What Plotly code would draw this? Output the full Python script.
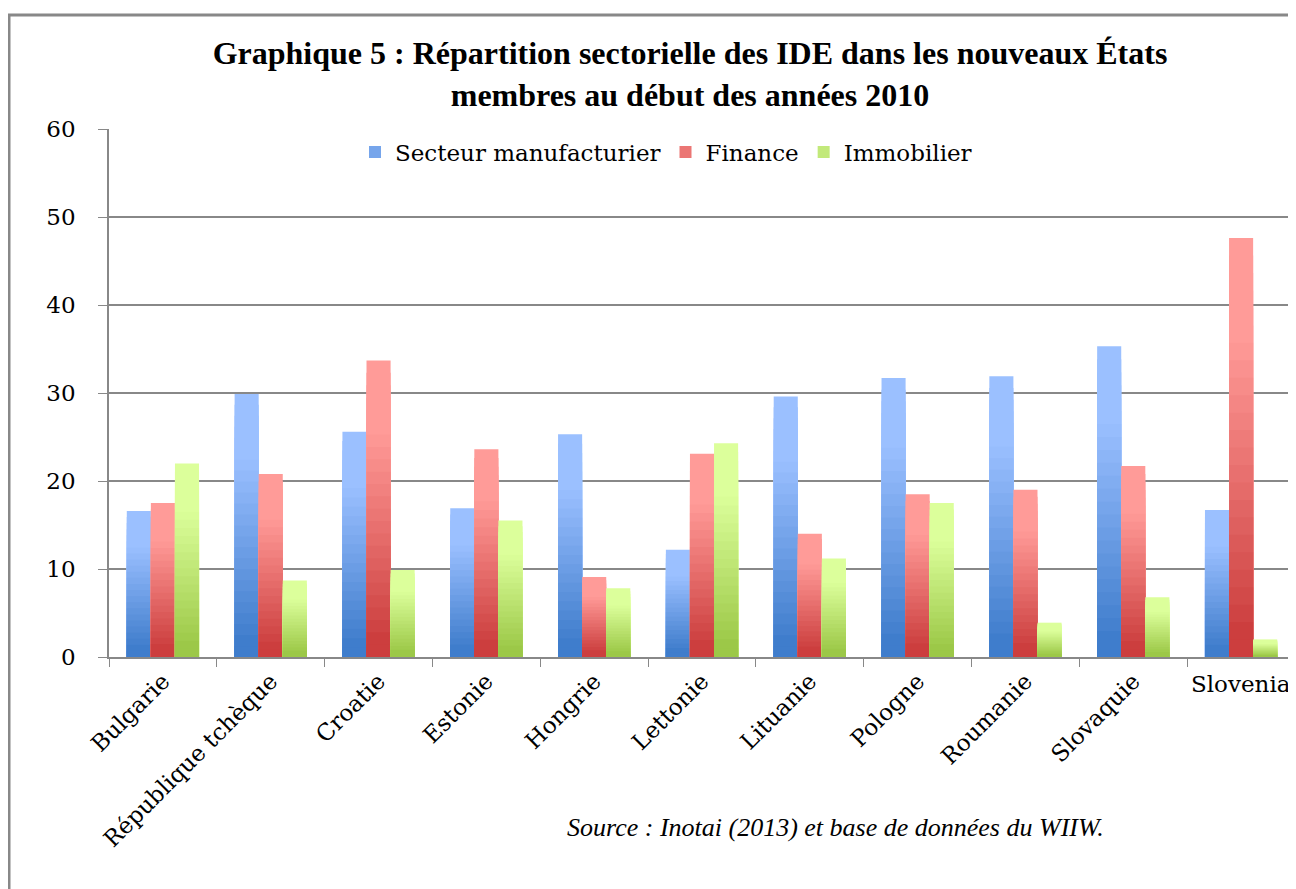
import plotly.graph_objects as go

categories = ["Bulgarie", "République tchèque", "Croatie", "Estonie", "Hongrie",
              "Lettonie", "Lituanie", "Pologne", "Roumanie", "Slovaquie", "Slovenia"]
manufacturier = [16.6, 29.9, 25.6, 16.9, 25.3, 12.2, 29.6, 31.7, 31.9, 35.3, 16.7]
finance = [17.5, 20.8, 33.7, 23.6, 9.1, 23.1, 14.0, 18.5, 19.0, 21.7, 47.6]
immobilier = [22.0, 8.7, 9.9, 15.5, 7.8, 24.3, 11.2, 17.5, 3.9, 6.8, 2.0]
series = [("Secteur manufacturier", manufacturier, (63, 125, 204), (155, 192, 255)),
          ("Finance", finance, (204, 62, 62), (255, 155, 152)),
          ("Immobilier", immobilier, (156, 200, 72), (220, 255, 155))]

SERIF = "Liberation Serif, Times New Roman, serif"
WSERIF = "DejaVu Serif, serif"
N = 24

# page geometry (figure starts 8px in because of the page body margin)
PX0, PX1, PY0, PY1 = 109, 1295, 129, 657


def px(X):
    return (X - PX0) / (PX1 - PX0)


def py(Y):
    return (PY1 - Y) / (PY1 - PY0)


def grad(dark, light, t):
    lo, hi = 0.08, 0.78
    s = min(max((t - lo) / (hi - lo), 0), 1)
    c = [round(d + (l - d) * s) for d, l in zip(dark, light)]
    return "rgb(%d,%d,%d)" % tuple(c)


fig = go.Figure()
for gi, (name, vals, dark, light) in enumerate(series):
    for k in range(N):
        f = 1 - k / N
        fig.add_trace(go.Bar(
            x=categories, y=[v * f for v in vals], name=name,
            offsetgroup=str(gi), legendgroup=name,
            showlegend=(k == N // 2),
            marker=dict(color=grad(dark, light, f), line=dict(width=0)),
            hoverinfo="skip"))

ticktext = [c if c != "Slovenia" else "" for c in categories]

fig.update_layout(
    width=1288, height=881,
    margin=dict(l=PX0 - 8, r=1296 - PX1, t=PY0 - 8, b=889 - PY1),
    paper_bgcolor="white", plot_bgcolor="white",
    barmode="group", bargap=0.33, bargroupgap=0,
    font=dict(family=WSERIF, size=22, color="black"),
    title=dict(text="<b>Graphique 5 : Répartition sectorielle des IDE dans les nouveaux États<br>membres au début des années 2010</b>",
               x=(690 - 8) / 1288, xanchor="center", y=1 - 56 / 881, yanchor="top",
               font=dict(family=SERIF, size=32, color="black")),
    legend=dict(orientation="h", x=px(666), xanchor="center",
                y=py(152), yanchor="middle",
                font=dict(family=WSERIF, size=23), bgcolor="rgba(0,0,0,0)",
                traceorder="normal", itemwidth=30),
    xaxis=dict(tickvals=categories, ticktext=ticktext, tickangle=-45,
               tickson="boundaries", ticks="outside", ticklen=8, tickcolor="#888",
               showline=True, linecolor="#888", linewidth=1.5,
               tickfont=dict(family=WSERIF, size=23), showgrid=False),
    yaxis=dict(range=[0, 60], dtick=10, showgrid=True, gridcolor="#888", gridwidth=1.5,
               showline=True, linecolor="#888", linewidth=1.5,
               ticks="outside", ticklen=9, tickcolor="#888", ticklabelstandoff=18,
               tickfont=dict(family=WSERIF, size=23), zeroline=False),
)

fig.add_annotation(x="Slovenia", y=0, xref="x", yref="y", yshift=-12,
                   text="Slovenia", showarrow=False, yanchor="top",
                   font=dict(family=WSERIF, size=23))
fig.add_annotation(x=px(835), y=py(844), xref="paper", yref="paper",
                   text="<i>Source : Inotai (2013) et base de données du WIIW.</i>",
                   showarrow=False, font=dict(family=SERIF, size=26))
fig.add_shape(type="rect", xref="paper", yref="paper",
              x0=px(9), x1=px(1330), y0=py(950), y1=py(15),
              line=dict(color="#888", width=3), fillcolor="rgba(0,0,0,0)", layer="below")

fig.write_html("out.html")
